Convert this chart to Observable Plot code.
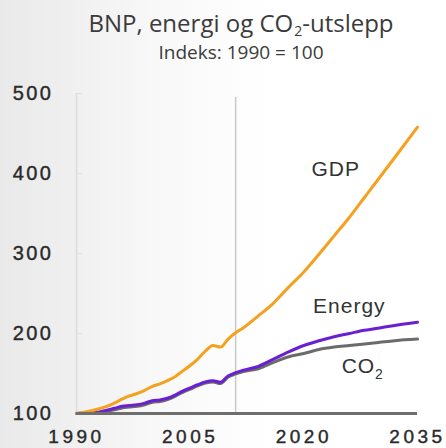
<!DOCTYPE html>
<html>
<head>
<meta charset="utf-8">
<script src="https://cdn.jsdelivr.net/npm/d3@7"></script>
<script src="https://cdn.jsdelivr.net/npm/@observablehq/plot@0.6"></script>
<style>
  html, body { margin: 0; padding: 0; }
  body {
    width: 446px; height: 448px; overflow: hidden; position: relative;
    background: linear-gradient(90deg, #e9e9e9 0%, #f8f8f8 35%, #ffffff 60%);
    font-family: "Open Sans", "Liberation Sans", sans-serif;
  }
  #title {
    position: absolute; left: 18px; width: 446px; top: 9px;
    text-align: center; color: #3b3b3b; font-size: 24px; font-weight: 500; line-height: 28px;
  }
  #title sub { font-size: 14px; vertical-align: -4px; line-height: 0; margin-left: 1px; }
  #subtitle {
    position: absolute; left: 18px; width: 446px; top: 41px;
    text-align: center; color: #3b3b3b; font-size: 19px; line-height: 22px;
  }
  #chart { position: absolute; left: 0; top: 70px; }
  #chart svg { background: transparent; overflow: visible; }
</style>
</head>
<body>
<div id="title">BNP, energi og CO<sub>2</sub>-utslepp</div>
<div id="subtitle">Indeks: 1990 = 100</div>
<div id="chart"></div>
<script>
// Historical (annual) and projected values, index 1990 = 100
const years = [1990,1991,1992,1993,1994,1995,1996,1997,1998,1999,2000,2001,2002,2003,2004,2005,2006,2007,2008,2009,2010,2011,
               2012,2014,2016,2018,2020,2022,2024,2026,2028,2030,2032,2035];
const gdp    = [100,101.5,103.5,106,109,113,118,122,125,129,134,137,141,146,153,160,168,178,185,183,193,201,
               207,222,238,258,277,299,322,345,370,395,420,458];
const energy = [100,100.5,101,102,104,106.5,109,110,111,113,116,117,119,123,128,132,136,139.5,141,139,147,151,
               154,159,168,177,185,191,196,200,204,207,210,214];
const co2    = [100,100,100.3,101,102.5,104.5,107,108,109,111,114,115,117.5,121.5,126.5,130.5,134.5,138,139.5,137.5,145.5,149.5,
               152.5,156,164,171,175,180,183,185,187,189,191,193];

const seriesNames = ["GDP", "Energy", "CO2"];
const seriesColors = ["#f5a01e", "#6a1fd0", "#6b6b6b"];
const xTicks = [1990, 2005, 2020, 2035];
const yTicks = [100, 200, 300, 400, 500];
const baseYear = 2011; // last historical year

const rows = [];
[gdp, energy, co2].forEach((vals, i) => {
  vals.forEach((v, j) => rows.push({series: seriesNames[i], year: years[j], value: v}));
});
const drawOrder = ["CO2", "Energy", "GDP"];

const labelRows = [
  {text: "GDP", year: 2024.2, value: 405},
  {text: "Energy", year: 2026, value: 234},
  {text: "CO", year: 2027.2, value: 159}
];

const chart = Plot.plot({
  width: 446,
  height: 378,
  marginLeft: 76,
  marginRight: 29,
  marginTop: 23,
  marginBottom: 35,
  style: {fontFamily: "'Liberation Sans', Arial, sans-serif", color: "#333", background: "transparent"},
  x: {type: "linear", domain: [1990, 2035]},
  y: {type: "linear", domain: [100, 500]},
  color: {domain: seriesNames, range: seriesColors},
  marks: [
    Plot.ruleX([1990], {stroke: "#dcdcdc", strokeWidth: 1.5}),
    Plot.ruleY(yTicks.slice(1), {x1: 1990, x2: 1990.8, stroke: "#e0e0e0"}),
    Plot.ruleX([baseYear], {y1: 100, y2: 495, stroke: "#c8c8c8", strokeWidth: 1.5}),
    Plot.axisY(yTicks, {tickSize: 0, tickPadding: 23, fontSize: 20, fill: "#2a2a2a", label: null}),
    Plot.axisX(xTicks, {tickSize: 0, tickPadding: 16, fontSize: 19, fill: "#2a2a2a", tickFormat: d => String(d), label: null}),
    ...drawOrder.map(name => Plot.line(rows.filter(r => r.series === name), {
      x: "year", y: "value", stroke: "series", strokeWidth: 3, curve: "monotone-x"
    })),
    Plot.ruleY([100], {stroke: "#6e6e6e", strokeWidth: 3}),
    Plot.text(labelRows, {x: "year", y: "value", text: "text", fontSize: 21, fill: "#333", textAnchor: "middle"}),
    Plot.text([{text: "2", year: 2027.2, value: 159}], {x: "year", y: "value", text: "text", fontSize: 14, fill: "#333", dx: 21, dy: 8})
  ]
});
chart.querySelectorAll("[aria-label='y-axis tick label'] text").forEach(t => { t.style.letterSpacing = "2.5px"; t.style.stroke = "#2a2a2a"; t.style.strokeWidth = "0.4px"; });
chart.querySelectorAll("[aria-label='x-axis tick label'] text").forEach(t => { t.style.letterSpacing = "3.5px"; t.style.stroke = "#2a2a2a"; t.style.strokeWidth = "0.4px"; });
chart.querySelectorAll("[aria-label='text'] text").forEach(t => t.style.letterSpacing = "1px");
document.getElementById("chart").appendChild(chart);
</script>
</body>
</html>
